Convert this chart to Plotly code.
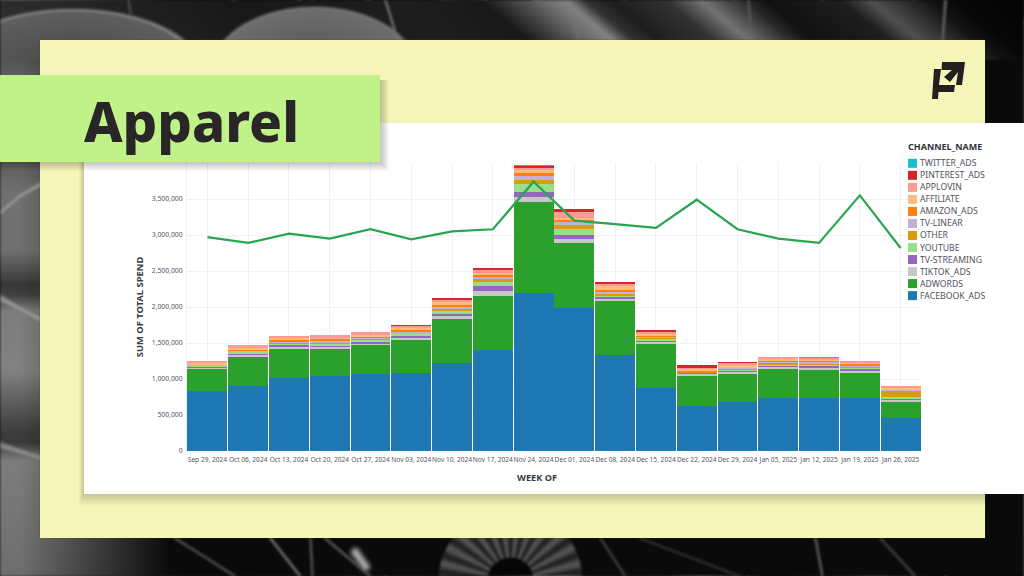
import base64, struct, zlib
import numpy as np
import plotly.graph_objects as go

WEEKS = ["Sep 29, 2024","Oct 06, 2024","Oct 13, 2024","Oct 20, 2024","Oct 27, 2024","Nov 03, 2024",
         "Nov 10, 2024","Nov 17, 2024","Nov 24, 2024","Dec 01, 2024","Dec 08, 2024","Dec 15, 2024",
         "Dec 22, 2024","Dec 29, 2024","Jan 05, 2025","Jan 12, 2025","Jan 19, 2025","Jan 26, 2025"]
# spend per channel, thousands, bottom of stack first
FACEBOOK_ADS = [833,905,1010,1035,1065,1080,1225,1407,2200,1990,1333,870,629,685,740,740,740,463]
ADWORDS      = [306,405,416,377,403,457,608,750,1260,900,747,616,417,398,408,390,348,217]
TIKTOK_ADS   = [20,25,25,35,30,35,40,60,70,55,30,30,25,25,27,35,32,35]
TV_STREAMING = [12,25,30,25,25,35,35,80,70,60,35,25,20,15,15,20,25,20]
YOUTUBE      = [10,15,10,20,25,20,45,55,115,83,15,15,5,10,10,10,15,10]
OTHER        = [5,10,10,10,10,10,15,32,45,55,25,15,5,10,30,25,15,97]
TV_LINEAR    = [10,10,20,20,25,25,30,35,55,37,25,15,10,10,10,20,10,5]
AMAZON_ADS   = [10,10,25,30,10,25,30,25,45,32,30,20,10,5,15,10,20,0]
AFFILIATE    = [20,30,30,30,25,20,35,30,40,28,55,25,25,30,25,25,30,30]
APPLOVIN     = [25,35,25,25,35,30,45,45,35,90,35,25,20,40,25,20,15,20]
PINTEREST    = [0,0,0,0,0,10,15,23,28,25,20,25,25,5,0,0,0,0]
TWITTER      = [0,0,0,0,0,0,0,0,2,0,0,0,0,0,0,1,0,0]
# overlaid line, thousands
LINE_VALUES  = [2970,2890,3020,2950,3080,2940,3050,3080,3740,3200,3150,3100,3490,3080,2950,2890,3550,2820]

CHANNELS = ["FACEBOOK_ADS","ADWORDS","TIKTOK_ADS","TV-STREAMING","YOUTUBE","OTHER","TV-LINEAR",
            "AMAZON_ADS","AFFILIATE","APPLOVIN","PINTEREST_ADS","TWITTER_ADS"]
SERIES = [FACEBOOK_ADS,ADWORDS,TIKTOK_ADS,TV_STREAMING,YOUTUBE,OTHER,TV_LINEAR,AMAZON_ADS,AFFILIATE,APPLOVIN,PINTEREST,TWITTER]
COLORS = ["#1f77b4","#2ca02c","#c7c7c7","#9467bd","#98df8a","#d89c0e","#c5b0d5","#ff7f0e","#ffbb78","#ff9896","#d62728","#17becf"]

W, H = 1024, 576
L, R, T, B = 187, 921, 163, 451
def PX(x): return (x - L) / (R - L)
def PY(y): return (B - y) / (B - T)

# --- decorative photographic backdrop (soft grey petals) ---
Y, X = np.mgrid[0:H, 0:W].astype(float)
top = np.interp(X - 1.2 * Y, [-60,0,130,230,400,480,540,565,585,610,665,700,745,765,840,870,930,955,1024],
                [45,45,32,24,30,24,105,130,50,30,50,115,40,18,30,80,18,8,3])
left = np.interp(Y, [0,40,75,163,190,250,285,295,310,370,430,442,460,576],
                 [70,70,95,95,112,112,55,65,125,130,62,58,125,110])
img = np.where(Y < 60, top, 10.0)
lm = np.clip((170 - X) / 150, 0, 1) * (Y > 40)
img = img * (1 - lm) + left * lm
TOPMASK = Y < 60
def petal(cx, cy, rx, ry, fill, edge):
    global img
    d = np.sqrt(((X - cx) / rx) ** 2 + ((Y - cy) / ry) ** 2)
    m = np.clip((1 - d) * min(rx, ry) / 3 + .5, 0, 1) * TOPMASK
    f = fill * (0.75 + 0.25 * np.clip(d, 0, 1))
    img = img * (1 - m) + f * m
    img = np.where(TOPMASK, np.maximum(img, edge * np.exp(-(((d - 1) * min(rx, ry) / 2.5) ** 2))), img)
def stroke(x0, y0, x1, y1, val, w=1.6):
    global img
    dx, dy = x1 - x0, y1 - y0
    t = np.clip(((X - x0) * dx + (Y - y0) * dy) / (dx * dx + dy * dy), 0, 1)
    d2 = (X - x0 - t * dx) ** 2 + (Y - y0 - t * dy) ** 2
    img = np.maximum(img, val * np.exp(-d2 / (w * w)))
petal(72, 70, 125, 60, 95, 130)
petal(314, 70, 100, 62, 110, 122)
for s in [(128,0,130,12,85),(385,0,398,42,120),(570,0,578,42,120),(748,0,752,42,100),(945,0,942,42,110),
          (0,212,20,195,150,4),(20,195,42,183,150,4),(0,298,42,320,150,5),(0,445,42,458,140,5),
          (175,538,235,576,80),(270,538,300,576,115),(310,538,312,576,85),(325,538,370,576,90),
          (355,552,365,566,165,5),(600,538,625,576,65),(640,538,740,576,50),(815,538,822,576,95),(880,538,915,576,65)]:
    stroke(*s)
cx, cy = 510, 580
rr = np.hypot(X - cx, Y - cy); th = np.arctan2(Y - cy, X - cx)
ring = (rr > 23) & (rr < 72) & (Y > 530)
img = np.where(ring, 58 + 26 * np.cos(th * 26), img)
img = np.where((rr <= 23) & (Y > 530), 6, img)
for _ in range(2):              # soften everything, as in a resampled photo
    for ax in (0, 1):
        img = (np.roll(img, -1, ax) + np.roll(img, 1, ax) + img) / 3
def to_png(a):
    a = np.clip(a, 0, 255).astype(np.uint8)
    raw = b"".join(b"\x00" + a[i].tobytes() for i in range(a.shape[0]))
    chunk = lambda t, d: struct.pack(">I", len(d)) + t + d + struct.pack(">I", zlib.crc32(t + d))
    return (b"\x89PNG\r\n\x1a\n" + chunk(b"IHDR", struct.pack(">IIBBBBB", a.shape[1], a.shape[0], 8, 0, 0, 0, 0))
            + chunk(b"IDAT", zlib.compress(raw, 9)) + chunk(b"IEND", b""))
BACKDROP = "data:image/png;base64," + base64.b64encode(to_png(img)).decode()

# --- helpers for panels ---
def rect(x0, y0, x1, y1, color, layer="below"):
    return dict(type="rect", xref="paper", yref="paper", x0=PX(x0), x1=PX(x1), y0=PY(y0), y1=PY(y1),
                fillcolor=color, line_width=0, layer=layer)
def poly(points, color, layer="above"):
    path = "M" + "L".join(f"{PX(a):.5f},{PY(b):.5f}" for a, b in points) + "Z"
    return dict(type="path", xref="paper", yref="paper", path=path, fillcolor=color, line_width=0, layer=layer)

shapes = [rect(39.5, 39.5, 985.5, 538.5, "rgba(70,70,40,0.35)"), rect(40, 40, 985, 538, "#f6f5b9")]
for i in range(10, 0, -1):      # soft shadow beneath the white card
    shapes.append(rect(84 - i * .5, 123, 985, 494 + i * 1.1, "rgba(60,60,40,0.028)"))
shapes.append(rect(84, 123, 1024, 494, "#ffffff"))
for i in range(10, 0, -1):      # soft shadow of the title banner
    shapes.append(rect(0, 80, 380 + i * .9, 162 + i * .9, "rgba(40,40,30,0.028)", "above"))
shapes.append(rect(0, 75, 380, 162, "#c1f28a", "above"))
LOGO = "#231f20"
shapes += [poly([(942,62),(965,62),(962,85),(956,85),(958,72),(954,77),(950,82),(944,77),(952,70),(941.5,70)], LOGO),
           poly([(934,69),(941,69),(939,85),(955,85),(954,92),(938.5,92),(938,99),(932,99)], LOGO)]

annotations = [dict(text="Apparel", xref="paper", yref="paper", x=PX(82), y=PY(121), xanchor="left", yanchor="middle",
                    showarrow=False, font=dict(family="Noto Sans", size=54.5, weight=800, color="#2a2627")),
               dict(text="<b>CHANNEL_NAME</b>", xref="paper", yref="paper", x=PX(906), y=PY(146), xanchor="left", yanchor="middle",
                    showarrow=False, font=dict(family="Noto Sans", size=9, color="#33333c")),
               dict(text="<b>WEEK OF</b>", xref="paper", yref="paper", x=PX(536.5), y=PY(477), xanchor="center", yanchor="middle",
                    showarrow=False, font=dict(family="Noto Sans", size=9.2, color="#3a3a44"))]
# channel key, last stack layer on top
for i, (name, color) in enumerate(zip(CHANNELS[::-1], COLORS[::-1])):
    yc = 163.3 + i * 12.03
    shapes.append(rect(908, yc - 4.5, 917, yc + 4.5, color, "above"))
    annotations.append(dict(text=name, xref="paper", yref="paper", x=PX(918), y=PY(yc), xanchor="left", yanchor="middle",
                            showarrow=False, font=dict(family="Noto Sans", size=8.7, color="#52525c")))

fig = go.Figure()
for name, vals, color in zip(CHANNELS, SERIES, COLORS):
    fig.add_bar(x=WEEKS, y=[v * 1000 for v in vals], name=name, marker=dict(color=color, line_width=0), showlegend=False)
fig.add_scatter(x=WEEKS, y=[v * 1000 for v in LINE_VALUES], mode="lines", line=dict(color="#27a550", width=2.2), showlegend=False)

fig.update_layout(
    width=W, height=H, margin=dict(l=L, r=W - R, t=T, b=H - B, autoexpand=False),
    barmode="stack", bargap=0.02, paper_bgcolor="rgba(0,0,0,0)", plot_bgcolor="rgba(0,0,0,0)",
    font=dict(family="Noto Sans"), shapes=shapes, annotations=annotations,
    images=[dict(source=BACKDROP, xref="paper", yref="paper", x=PX(0), y=PY(0), sizex=W / (R - L), sizey=H / (B - T),
                 xanchor="left", yanchor="top", sizing="stretch", layer="below")],
    xaxis=dict(type="category", tickangle=0, showgrid=True, gridcolor="#f1f0f5", gridwidth=1, ticks="", showline=False,
               ticklabelstandoff=3, tickfont=dict(size=6.6, color="#55555f")),
    yaxis=dict(range=[0, 4000000], tickvals=list(range(0, 4000000, 500000)), tickformat=",d", showgrid=True, gridcolor="#f1f0f5",
               gridwidth=1, zeroline=False, showline=True, linecolor="#f1f0f5", ticks="", ticklabelstandoff=2,
               tickfont=dict(size=6.8, color="#55555f"),
               title=dict(text="<b>SUM OF TOTAL SPEND</b>", standoff=6, font=dict(size=9.4, color="#3a3a44"))),
)
fig.write_html("out.html", config={"displayModeBar": False},
               post_script="document.body.style.margin='0';document.body.style.overflow='hidden';")
